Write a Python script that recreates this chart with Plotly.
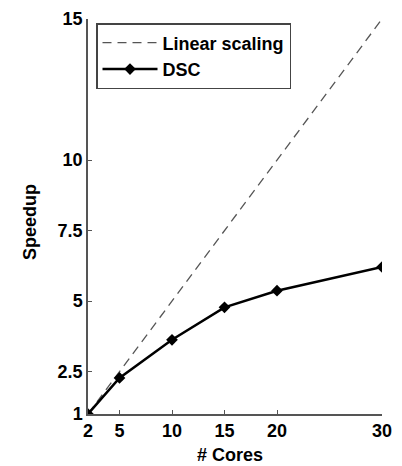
import plotly.graph_objects as go

cores = [2, 5, 10, 15, 20, 30]
linear_speedup = [1, 2.5, 5, 7.5, 10, 15]
dsc_speedup = [1, 2.28, 3.63, 4.78, 5.37, 6.21]
x_ticks = [2, 5, 10, 15, 20, 30]
y_ticks = [1, 2.5, 5, 7.5, 10, 15]
y_ticklabels = ["1", "2.5", "5", "7.5", "10", "15"]

FONT = "Liberation Sans, Arial, sans-serif"
AX = "#555555"

# page body has an 8px margin, so the figure is sized/offset to compensate
W, H = 394, 458
ML, MR, MT, MB = 80, 20, 11, 52
PW, PH = W - ML - MR, H - MT - MB


def px_to_paper(xf, yf):
    return (xf - ML) / PW, (H - MB - yf) / PH


fig = go.Figure()
fig.add_trace(go.Scatter(
    x=cores, y=linear_speedup, mode="lines", name="Linear scaling",
    line=dict(color="#555555", width=1.3, dash="9px,6px"),
))
fig.add_trace(go.Scatter(
    x=cores, y=dsc_speedup, mode="lines+markers", name="DSC",
    line=dict(color="black", width=2.5),
    marker=dict(symbol="diamond", size=9, color="black"),
))

xc, yc = px_to_paper(222, 447)
xs, ys = px_to_paper(22, 214)
lx, ly = px_to_paper(88, 15)

fig.update_layout(
    width=W, height=H,
    margin=dict(l=ML, r=MR, t=MT, b=MB, autoexpand=False),
    plot_bgcolor="white", paper_bgcolor="white",
    font=dict(family=FONT, size=18, color="black", weight="bold"),
    showlegend=True,
    legend=dict(
        x=lx, y=ly, xanchor="left", yanchor="top",
        bordercolor="#444444", borderwidth=1.5, bgcolor="white",
        font=dict(size=18, family=FONT, weight="bold"),
        itemwidth=55, tracegroupgap=0,
    ),
    xaxis=dict(
        range=[2, 30], tickvals=x_ticks, ticktext=[str(v) for v in x_ticks],
        showgrid=False, zeroline=False, showline=True, linecolor=AX, linewidth=1.5,
        ticks="inside", ticklen=4, tickcolor=AX, automargin=False,
        ticklabeloverflow="allow",
        tickfont=dict(size=18, weight="bold"),
    ),
    yaxis=dict(
        range=[1, 15], tickvals=y_ticks, ticktext=y_ticklabels,
        showgrid=False, zeroline=False, showline=True, linecolor=AX, linewidth=1.5,
        ticks="inside", ticklen=4, tickcolor=AX, automargin=False,
        ticklabeloverflow="allow",
        tickfont=dict(size=18, weight="bold"),
    ),
    annotations=[
        dict(text="# Cores", x=xc, y=yc, xref="paper", yref="paper",
             xanchor="center", yanchor="middle",
             showarrow=False, font=dict(size=18, weight="bold")),
        dict(text="Speedup", x=xs, y=ys, xref="paper", yref="paper",
             xanchor="center", yanchor="middle",
             showarrow=False, textangle=-90, font=dict(size=18, weight="bold")),
    ],
)

fig.write_html("out.html")
